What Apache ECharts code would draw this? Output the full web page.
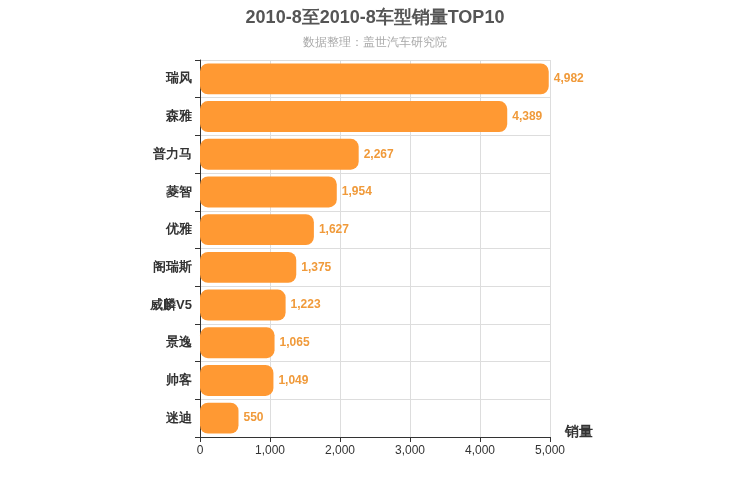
<!DOCTYPE html>
<html><head><meta charset="utf-8">
<script src="https://cdn.jsdelivr.net/npm/echarts@6/dist/echarts.min.js"></script>
<style>html,body{margin:0;padding:0}#c{width:750px;height:500px}</style>
</head><body><div id="c"></div>
<script>
const categories=['瑞风','森雅','普力马','菱智','优雅','阁瑞斯','威麟V5','景逸','帅客','迷迪'];
const sales=[4982,4389,2267,1954,1627,1375,1223,1065,1049,550];
const chart=echarts.init(document.getElementById('c'));
chart.setOption({
  title:{text:'2010-8至2010-8车型销量TOP10',subtext:'数据整理：盖世汽车研究院',left:'center',top:4,
    textStyle:{fontSize:18,fontWeight:'bold',color:'#555'},subtextStyle:{fontSize:12,color:'#aaa'},itemGap:10},
  grid:{left:200,right:200,top:60,bottom:63},
  xAxis:{type:'value',min:0,max:5000,interval:1000,name:'销量',nameLocation:'end',nameGap:15,
    nameTextStyle:{fontSize:14,fontWeight:'bold',color:'#333',verticalAlign:'top',padding:[-12,0,0,0]},
    axisLine:{show:true,lineStyle:{color:'#333'}},axisTick:{show:true},
    axisLabel:{color:'#333',formatter:v=>v.toLocaleString('en-US')},
    splitLine:{lineStyle:{color:'#ddd'}}},
  yAxis:{type:'category',data:categories,inverse:true,
    axisLine:{lineStyle:{color:'#333'}},axisTick:{show:true},
    axisLabel:{color:'#333',fontSize:13,fontWeight:'bold'},
    splitLine:{show:true,lineStyle:{color:'#ddd'}}},
  series:[{type:'bar',data:sales,barWidth:'82%',
    itemStyle:{color:'#FF9933',borderRadius:8},
    label:{show:true,position:'right',color:'#F09A3A',fontWeight:'bold',fontSize:12,
      formatter:p=>p.value.toLocaleString('en-US')}}]
});
</script></body></html>
